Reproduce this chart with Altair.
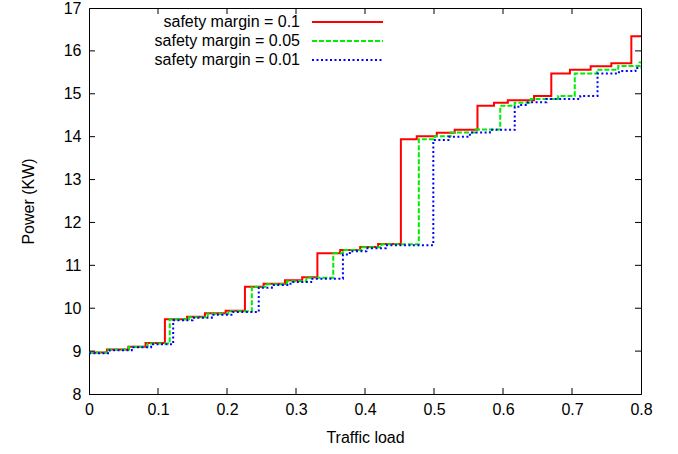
import altair as alt
import pandas as pd

series_names = ["safety margin = 0.1", "safety margin = 0.05", "safety margin = 0.01"]
colors = ["#ff0000", "#00ee00", "#0000ff"]
dashes = [[1, 0], [5, 2], [2, 2.5]]

red_x = [0.000, 0.026, 0.057, 0.082, 0.110, 0.142, 0.168, 0.198, 0.226, 0.253,
         0.284, 0.309, 0.331, 0.364, 0.393, 0.419, 0.452, 0.475, 0.504, 0.530,
         0.563, 0.587, 0.607, 0.645, 0.670, 0.697, 0.727, 0.757, 0.786, 0.800]
red_y = [8.97, 9.04, 9.10, 9.19, 9.74, 9.80, 9.88, 9.94, 10.50, 10.57,
         10.65, 10.72, 11.28, 11.36, 11.43, 11.50, 13.94, 14.01, 14.09, 14.16,
         14.72, 14.79, 14.85, 14.95, 15.47, 15.56, 15.64, 15.71, 16.34, 16.34]

green_x = [0.000, 0.028, 0.058, 0.085, 0.117, 0.145, 0.172, 0.202, 0.236, 0.258,
           0.287, 0.315, 0.354, 0.368, 0.396, 0.424, 0.478, 0.501, 0.524, 0.560,
           0.596, 0.617, 0.640, 0.680, 0.704, 0.736, 0.767, 0.798, 0.800]
green_y = [8.97, 9.04, 9.10, 9.18, 9.74, 9.79, 9.87, 9.93, 10.50, 10.56,
           10.63, 10.71, 11.28, 11.36, 11.42, 11.49, 13.94, 14.01, 14.10, 14.17,
           14.72, 14.79, 14.88, 14.95, 15.47, 15.56, 15.65, 15.73, 15.73]

blue_x = [0.000, 0.030, 0.062, 0.090, 0.122, 0.150, 0.178, 0.208, 0.246, 0.265,
          0.292, 0.322, 0.368, 0.378, 0.402, 0.430, 0.499, 0.521, 0.552, 0.581,
          0.617, 0.624, 0.636, 0.663, 0.712, 0.737, 0.768, 0.792, 0.800]
blue_y = [8.95, 9.02, 9.09, 9.16, 9.72, 9.78, 9.85, 9.91, 10.48, 10.54,
          10.61, 10.69, 11.25, 11.33, 11.40, 11.47, 13.92, 14.00, 14.10, 14.16,
          14.70, 14.74, 14.80, 14.88, 14.95, 15.47, 15.53, 15.60, 15.60]

x_ticks = [0, 0.1, 0.2, 0.3, 0.4, 0.5, 0.6, 0.7, 0.8]
y_ticks = [8, 9, 10, 11, 12, 13, 14, 15, 16, 17]

FONT = "Liberation Sans"
W, H = 552, 386

rows = []
for name, xs, ys in zip(series_names, [red_x, green_x, blue_x], [red_y, green_y, blue_y]):
    for xv, yv in zip(xs, ys):
        rows.append({"series": name, "load": xv, "power": yv})
df = pd.DataFrame(rows)

xscale = alt.Scale(domain=[0, 0.8], nice=False, zero=False)
yscale = alt.Scale(domain=[8, 17], nice=False, zero=False)
cscale = alt.Scale(domain=series_names, range=colors)
dscale = alt.Scale(domain=series_names, range=dashes)

xaxis = alt.Axis(values=x_ticks, title="Traffic load", labelPadding=7,
                 titlePadding=12, format="~g", labelFlush=False, labelOverlap=False)
yaxis = alt.Axis(values=y_ticks, title="Power (KW)", labelPadding=8,
                 titlePadding=27, format="~g", labelFlush=False, labelOverlap=False)
xenc = alt.X("load:Q", scale=xscale, axis=xaxis)
yenc = alt.Y("power:Q", scale=yscale, axis=yaxis)

layers = []
for name in series_names:
    layers.append(
        alt.Chart(df).transform_filter(alt.datum.series == name)
        .mark_line(interpolate="step-after", strokeWidth=2)
        .encode(x=xenc, y=yenc,
                color=alt.Color("series:N", scale=cscale, legend=None),
                strokeDash=alt.StrokeDash("series:N", scale=dscale, legend=None))
    )

xt = pd.DataFrame({"load": x_ticks[1:-1]})
yt = pd.DataFrame({"power": y_ticks[1:-1]})
tick_bottom = alt.Chart(xt).mark_rule(color="black", strokeWidth=1).encode(
    x=xenc, y=alt.value(H), y2=alt.value(H - 6))
tick_top = alt.Chart(xt).mark_rule(color="black", strokeWidth=1).encode(
    x=xenc, y=alt.value(0), y2=alt.value(6))
tick_left = alt.Chart(yt).mark_rule(color="black", strokeWidth=1).encode(
    y=yenc, x=alt.value(0), x2=alt.value(6))
tick_right = alt.Chart(yt).mark_rule(color="black", strokeWidth=1).encode(
    y=yenc, x=alt.value(W), x2=alt.value(W - 6))

leg = pd.DataFrame({"series": series_names})
leg_base = alt.Chart(leg).transform_window(idx="row_number()").transform_calculate(
    ly="14 + (datum.idx - 1) * 19")
leg_text = leg_base.mark_text(align="right", baseline="middle", fontSize=16, font=FONT,
                              color="black").encode(
    x=alt.value(211), y=alt.Y("ly:Q", scale=None), text="series:N")
leg_line = leg_base.mark_rule(strokeWidth=2).encode(
    x=alt.value(223), x2=alt.value(294), y=alt.Y("ly:Q", scale=None),
    color=alt.Color("series:N", scale=cscale, legend=None),
    strokeDash=alt.StrokeDash("series:N", scale=dscale, legend=None))

chart = alt.layer(*layers, tick_bottom, tick_top, tick_left, tick_right, leg_line, leg_text).properties(
    width=W, height=H,
    autosize=alt.AutoSizeParams(type="none"),
    padding={"left": 89, "top": 8, "right": 37, "bottom": 60},
    background="white",
).configure_view(stroke="black", strokeWidth=1).configure_axis(
    grid=False, ticks=False, domainColor="black", domainWidth=1,
    labelColor="black", titleColor="black", labelFont=FONT, titleFont=FONT,
    labelFontSize=16, titleFontSize=16, titleFontWeight="normal",
)

chart.save("out.html", embed_options={"renderer": "svg", "actions": False})
